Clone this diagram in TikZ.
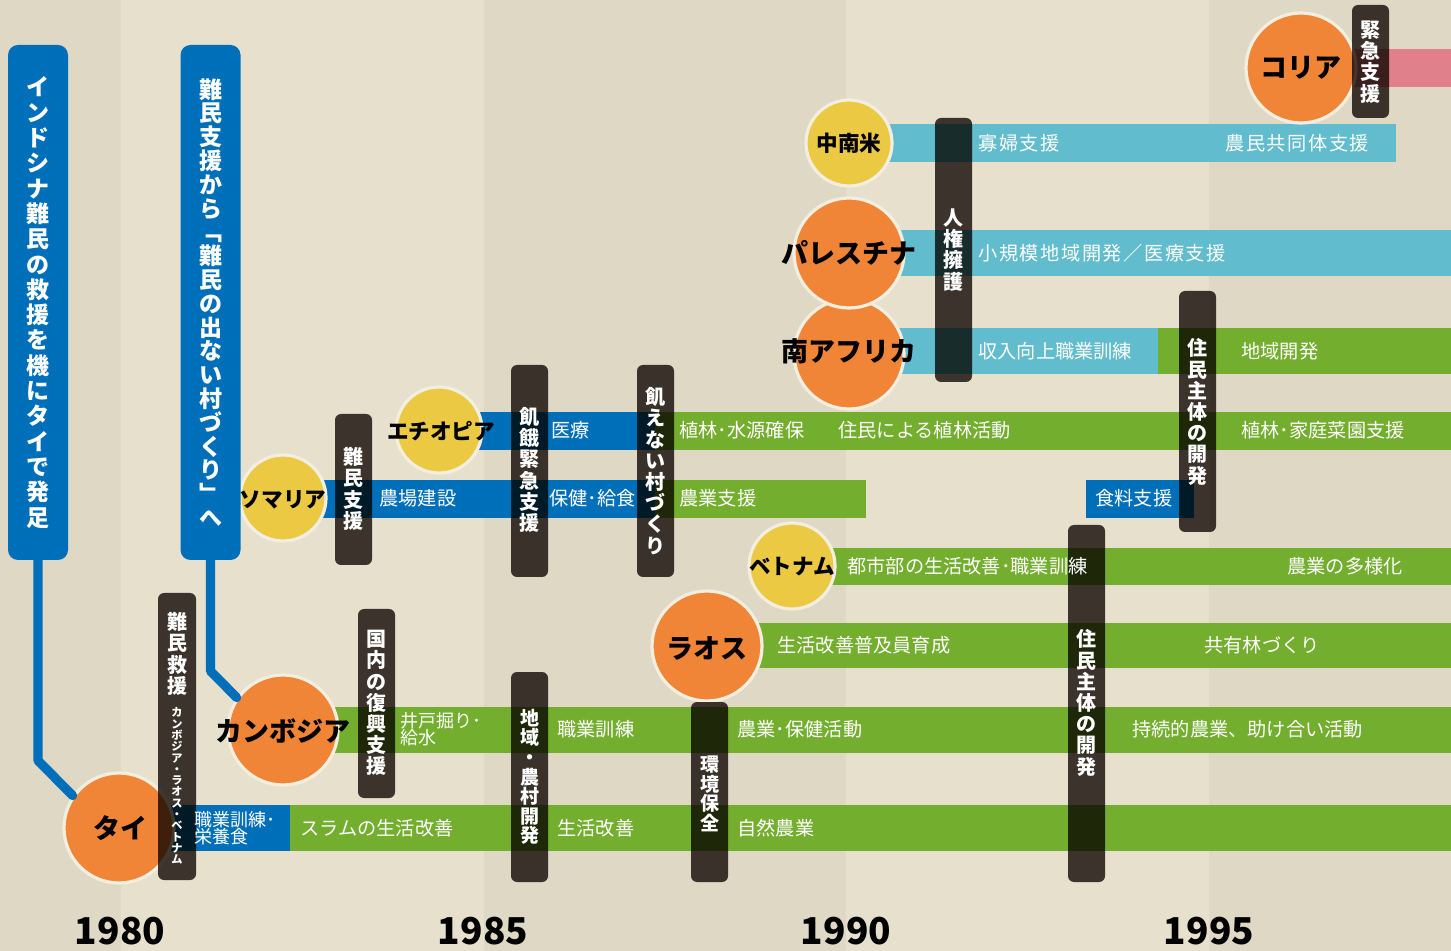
\documentclass[tikz,border=0pt]{standalone}
\usepackage{fontspec}
\setmainfont{Noto Sans CJK JP}
\newfontfamily\lsp[LetterSpace=8]{Noto Sans CJK JP}
\newcommand\myfs[2]{\fontsize{#1}{#2}\selectfont}
\definecolor{cbgl}{HTML}{E6E0CD}
\definecolor{cbgd}{HTML}{DED8C5}
\definecolor{cgreen}{HTML}{73AE2E}
\definecolor{cblue}{HTML}{006FBA}
\definecolor{clblue}{HTML}{61BCCD}
\definecolor{cpink}{HTML}{E0808A}
\definecolor{corange}{HTML}{F08537}
\definecolor{cyellow}{HTML}{EBC943}
\definecolor{cgray}{HTML}{433C37}
\definecolor{coutl}{HTML}{F3EEDF}
\tikzset{
  ctry/.style={circle, inner sep=0pt, draw=coutl, line width=1.6pt},
  bigc/.style={ctry, fill=corange, minimum size=55pt},
  smallc/.style={ctry, fill=cyellow, minimum size=43pt},
  cname/.style={font=\bfseries\myfs{13.5pt}{14pt}, text=black, inner sep=0pt},
  cnames/.style={font=\bfseries\myfs{10.8pt}{12pt}, text=black, inner sep=0pt},
  gbar/.style={fill=cgray, rounded corners=3pt},
  vtext/.style={text=white, font=\bfseries\myfs{10pt}{10.6pt}, align=center, inner sep=0pt},
  vtextn/.style={vtext, font=\bfseries\myfs{9.5pt}{9.8pt}},
  vtexts/.style={text=white, font=\bfseries\myfs{5.6pt}{5.65pt}, align=center, inner sep=0pt},
  lbl/.style={anchor=west, text=white, inner sep=0pt, font=\myfs{9.6pt}{9pt}},
  lbls/.style={lbl, font=\lsp\myfs{9.6pt}{9pt}},
  lbl2/.style={lbl, align=left, font=\myfs{9pt}{8.8pt}},
  bluebar/.style={fill=cblue, rounded corners=5pt, text=white, align=center, inner sep=0pt,
    minimum width=30pt, minimum height=257.5pt},
  conn/.style={draw=cblue, line width=4.6pt, line cap=round, line join=round},
  year/.style={font=\bfseries\myfs{18.5pt}{20pt}, text=black, inner sep=0pt}
}
\begin{document}
\begin{tikzpicture}[x=0.5pt,y=-0.5pt]
\useasboundingbox (0,0) rectangle (1451,951);
% background stripes
\fill[cbgd] (0,0) rectangle (121,951);
\fill[cbgl] (121,0) rectangle (484,951);
\fill[cbgd] (484,0) rectangle (846,951);
\fill[cbgl] (846,0) rectangle (1209,951);
\fill[cbgd] (1209,0) rectangle (1451,951);
% bands
\fill[cpink] (1301,49) rectangle (1451,87);
\fill[clblue] (849,124) rectangle (1396,162);
\fill[clblue] (849,230) rectangle (1451,276);
\fill[clblue] (849,328) rectangle (1158,374);
\fill[cgreen] (1158,328) rectangle (1451,374);
\fill[cblue] (439,412) rectangle (655,450);
\fill[cgreen] (655,412) rectangle (1451,450);
\fill[cblue] (283,480) rectangle (655,518);
\fill[cgreen] (655,480) rectangle (866,518);
\fill[cblue] (1086,480) rectangle (1194,518);
\fill[cgreen] (792,548) rectangle (1451,585);
\fill[cgreen] (707,623) rectangle (1451,668);
\fill[cgreen] (283,707) rectangle (1451,753);
\fill[cblue] (119,805) rectangle (290,851);
\fill[cgreen] (290,805) rectangle (1451,851);
% circles
\node[bigc] (korea) at (1301,68) {};
\node[smallc] (latam) at (849,143) {};
\node[bigc] (safrica) at (849,354) {};
\node[bigc] (pales) at (849,253) {};
\node[smallc] (ethi) at (439,430) {};
\node[smallc] (soma) at (283,498) {};
\node[smallc] (viet) at (792,566) {};
\node[bigc] (laos) at (707,646) {};
\node[bigc] (cambo) at (283,730) {};
\node[bigc] (thai) at (119,828) {};
% gray bars
\begin{scope}[blend mode=multiply]
\fill[gbar] (158,593) rectangle (196,880);
\fill[gbar] (358,609) rectangle (395,798);
\fill[gbar] (335,414) rectangle (372,565);
\fill[gbar] (511,365) rectangle (548,577);
\fill[gbar] (637,365) rectangle (674,577);
\fill[gbar] (511,672) rectangle (548,882);
\fill[gbar] (691,702) rectangle (728,882);
\fill[gbar] (935,118) rectangle (972,382);
\fill[gbar] (1179,291) rectangle (1216,532);
\fill[gbar] (1068,525) rectangle (1105,882);
\fill[gbar] (1352,5) rectangle (1389,118);
\end{scope}
% blue vertical bars
\node[bluebar, font=\bfseries\myfs{11.5pt}{12.65pt}] (b1) at (38,302.5)
  {イ\\ン\\ド\\シ\\ナ\\難\\民\\の\\救\\援\\を\\機\\に\\タ\\イ\\で\\発\\足};
\node[bluebar, font=\bfseries\myfs{11.5pt}{11.9pt}] (b2) at (210.5,302.5)
  {難\\民\\支\\援\\か\\ら\\﹁\\難\\民\\の\\出\\な\\い\\村\\づ\\く\\り\\﹂\\へ};
\coordinate (k1) at (38,760.6);
\coordinate (k2) at (210.5,671);
\draw[conn] (b1.south) -- (k1) -- (thai.145);
\draw[conn] (b2.south) -- (k2) -- (cambo.145);
% bar texts
\node[vtext] (tA) at (177,654) {難\\民\\救\\援};
\node[vtexts] (tA2) at (177,786) {カ\\ン\\ボ\\ジ\\ア\\・\\ラ\\オ\\ス\\・\\ベ\\ト\\ナ\\ム};
\node[vtext] (tB) at (376.5,703) {国\\内\\の\\復\\興\\支\\援};
\node[vtext] (tC) at (353.5,489) {難\\民\\支\\援};
\node[vtext] (tD) at (529.5,470) {飢\\餓\\緊\\急\\支\\援};
\node[vtext] (tE) at (655.5,471) {飢\\え\\な\\い\\村\\づ\\く\\り};
\node[vtextn] (tF) at (529.5,777) {地\\域\\・\\農\\村\\開\\発};
\node[vtextn] (tG) at (709.5,794) {環\\境\\保\\全};
\node[vtext] (tH) at (953.5,250) {人\\権\\擁\\護};
\node[vtext] (tI) at (1197.5,412) {住\\民\\主\\体\\の\\開\\発};
\node[vtext] (tJ) at (1086.5,703) {住\\民\\主\\体\\の\\開\\発};
\node[vtext] (tK) at (1370.5,62) {緊\\急\\支\\援};
% country names
\node[cname] (lkorea) at (korea) {コリア};
\node[cnames] (llatam) at (latam) {中南米};
\node[cname] (lpales) at (pales) {パレスチナ};
\node[cname] (lsafrica) at (849,351) {南アフリカ};
\node[cnames] (lethi) at (441,431) {エチオピア};
\node[cnames] (lsoma) at (283,500) {ソマリア};
\node[cnames] (lviet) at (792,567) {ベトナム};
\node[cname] (llaos) at (707,648) {ラオス};
\node[cname] (lcambo) at (283,731) {カンボジア};
\node[cname] (lthai) at (120,828) {タイ};
% band labels
\node[lbls] (l1) at (978,143) {寡婦支援};
\node[lbls] (l2) at (1225,143) {農民共同体支援};
\node[lbls] (l3) at (978,253) {小規模地域開発／医療支援};
\node[lbl] (l4) at (978,351) {収入向上職業訓練};
\node[lbl] (l5) at (1241,351) {地域開発};
\node[lbl] (l6) at (551,430) {医療};
\node[lbl] (l7) at (679,430) {植林･水源確保};
\node[lbl] (l8) at (838,430) {住民による植林活動};
\node[lbl] (l9) at (1241,430) {植林･家庭菜園支援};
\node[lbl] (l10) at (379,498) {農場建設};
\node[lbl] (l11) at (549,498) {保健･給食};
\node[lbl] (l12) at (679,498) {農業支援};
\node[lbl] (l13) at (1095,498) {食料支援};
\node[lbl] (l14) at (847,566) {都市部の生活改善･職業訓練};
\node[lbl] (l15) at (1287,566) {農業の多様化};
\node[lbl] (l16) at (777,645) {生活改善普及員育成};
\node[lbl] (l17) at (1204,645) {共有林づくり};
\node[lbl2] (l18) at (400,729) {井戸掘り･\\給水};
\node[lbl] (l19) at (557,729) {職業訓練};
\node[lbl] (l20) at (737,729) {農業･保健活動};
\node[lbl] (l21) at (1132,729) {持続的農業、助け合い活動};
\node[lbl2] (l22) at (194,828) {職業訓練･\\栄養食};
\node[lbl] (l23) at (300,828) {スラムの生活改善};
\node[lbl] (l24) at (557,828) {生活改善};
\node[lbl] (l25) at (737,828) {自然農業};
% years
\node[year] (y1) at (120,931) {1980};
\node[year] (y2) at (483,931) {1985};
\node[year] (y3) at (846,931) {1990};
\node[year] (y4) at (1209,931) {1995};
\end{tikzpicture}
\end{document}
